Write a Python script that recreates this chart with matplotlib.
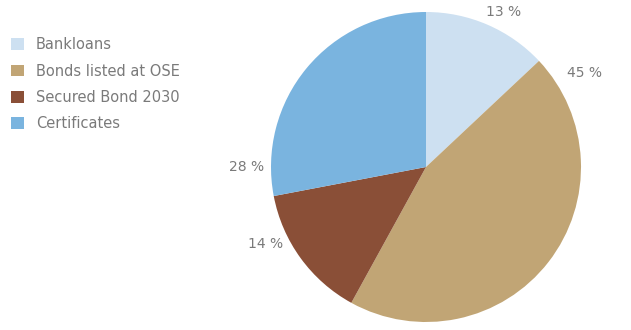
import matplotlib

matplotlib.use("Agg")

import numpy as np
import matplotlib.pyplot as plt
from matplotlib.patches import Patch

labels = ["Bankloans", "Bonds listed at OSE", "Secured Bond 2030", "Certificates"]
shares = [13, 45, 14, 28]
colors = ["#cde0f1", "#c1a575", "#8a4f37", "#7ab4df"]

# where each percentage label sits (angle in degrees, distance in radii)
label_angles = [63.6, 30.7, 205.6, 180.0]
label_dists = [1.12, 1.19, 1.15, 1.16]

TEXT_COLOR = "#7a7a7a"
plt.rcParams["font.family"] = ["DejaVu Sans"]

fig = plt.figure(figsize=(6.31, 3.30), dpi=100)
W, H = 631, 330
cx, cy, r = 426, 330 - 167, 155
ax = fig.add_axes([(cx - r) / W, (cy - r) / H, 2 * r / W, 2 * r / H])

wedges, _ = ax.pie(
    shares,
    colors=colors,
    startangle=90,
    counterclock=False,
    wedgeprops=dict(linewidth=0),
)
for s, a, d in zip(shares, label_angles, label_dists):
    t = np.deg2rad(a)
    ax.text(d * np.cos(t), d * np.sin(t), f"{s} %", ha="center", va="center",
            color=TEXT_COLOR, fontsize=10, clip_on=False)
ax.set_xlim(-1, 1)
ax.set_ylim(-1, 1)
ax.set_aspect("equal")

handles = [Patch(facecolor=c, edgecolor="none") for c in colors]
fig.legend(
    handles,
    labels,
    loc="upper left",
    bbox_to_anchor=(-0.003, 0.927),
    frameon=False,
    fontsize=10.5,
    labelcolor=TEXT_COLOR,
    handlelength=0.85,
    handleheight=0.85,
    handletextpad=0.85,
    labelspacing=0.78,
)

fig.savefig("out.png", dpi=100)
